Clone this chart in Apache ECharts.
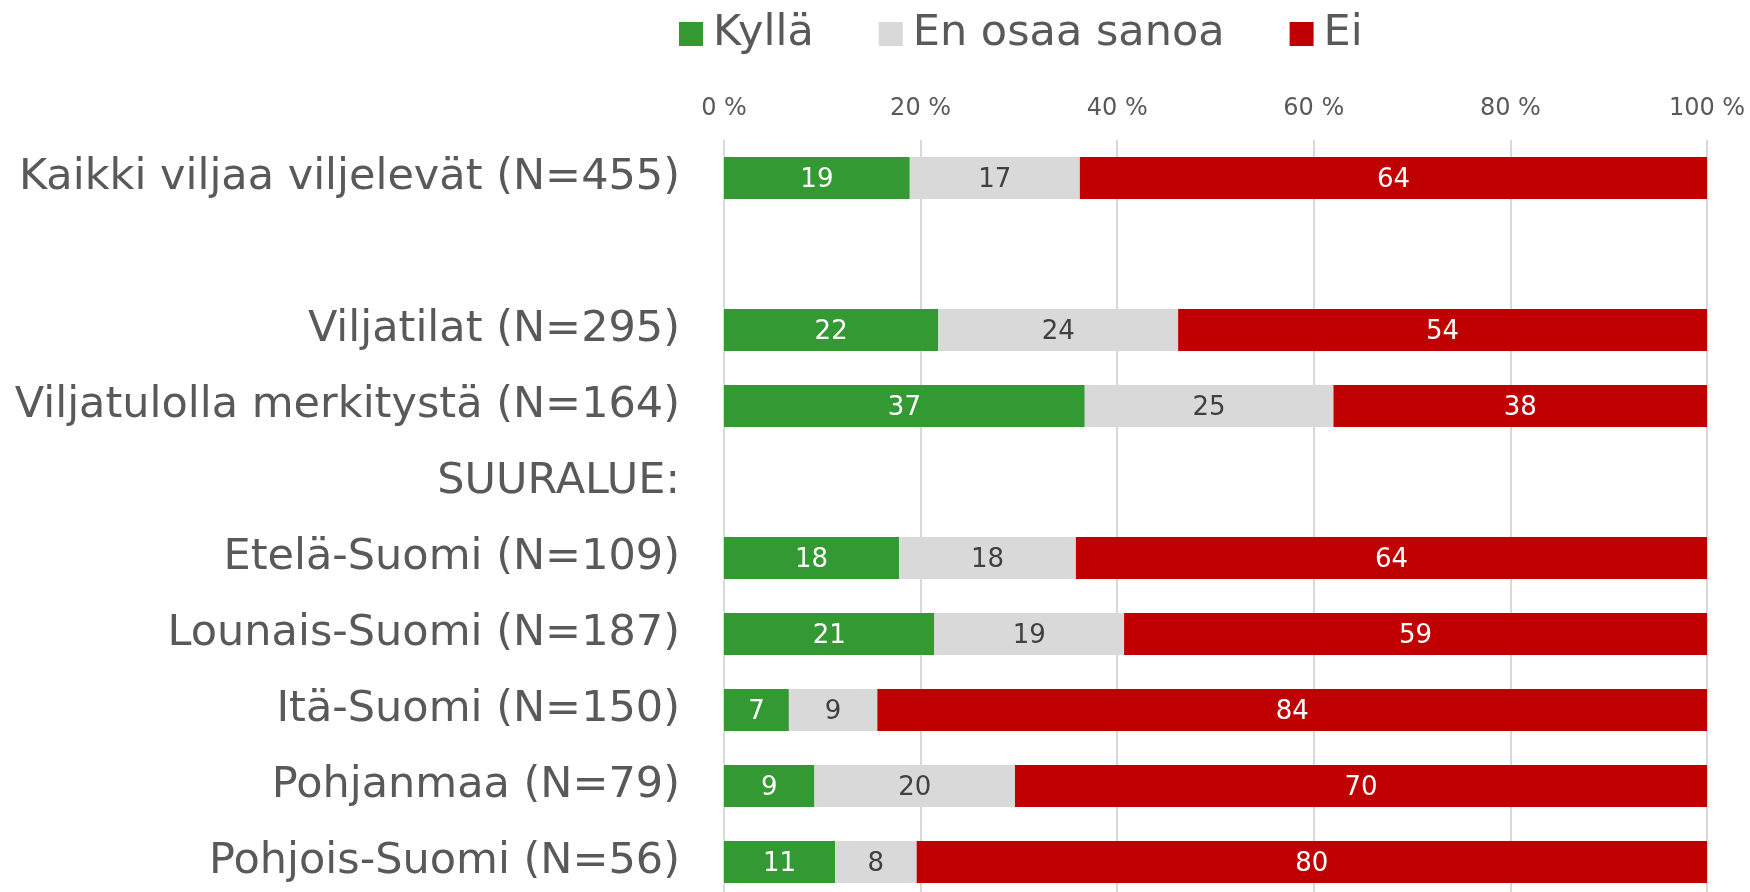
<html>
    <head>
        <meta charset="utf-8">
        <script src="https://cdn.jsdelivr.net/npm/echarts@6/dist/echarts.min.js"></script>
    </head>
    <body>
        <style>
            html, body, #main {
                width: 100%;
                height: 100%;
                margin: 0;
                background: #fff;
            }
        </style>
        <div id="main"></div>
        <script type="text/javascript">
            // rivit ylhäältä alas, tyhjät rivit välistyksenä
            var categories = [
                'Kaikki viljaa viljelevät (N=455)',
                '',
                'Viljatilat (N=295)',
                'Viljatulolla merkitystä (N=164)',
                'SUURALUE:',
                'Etelä-Suomi (N=109)',
                'Lounais-Suomi (N=187)',
                'Itä-Suomi (N=150)',
                'Pohjanmaa (N=79)',
                'Pohjois-Suomi (N=56)'
            ];
            var kylla    = [18.9, '-', 21.8, 36.7, '-', 17.8, 21.4, 6.6, 9.2, 11.3];
            var enOsaa   = [17.3, '-', 24.4, 25.3, '-', 18.0, 19.3, 9.0, 20.4, 8.3];
            var ei       = [63.8, '-', 53.8, 38.0, '-', 64.2, 59.3, 84.4, 70.4, 80.4];
            var seriesNames = ['Kyllä', 'En osaa sanoa', 'Ei'];

            var font = 'DejaVu Sans, Verdana, sans-serif';
            var chart = echarts.init(document.getElementById('main'));

            function makeSeries(name, data, color, labelColor) {
                return {
                    name: name,
                    type: 'bar',
                    stack: 'total',
                    barWidth: 42,
                    data: data,
                    itemStyle: { color: color },
                    label: {
                        show: true,
                        position: 'inside',
                        color: labelColor,
                        fontFamily: font,
                        fontSize: 26,
                        offset: [0, 2],
                        formatter: function (p) { return Math.round(p.value); }
                    },
                    emphasis: { disabled: true }
                };
            }

            var option = {
                animation: false,
                legend: {
                    data: seriesNames,
                    left: 674,
                    top: 5,
                    icon: 'rect',
                    itemWidth: 24,
                    itemHeight: 24,
                    itemGap: 65,
                    textStyle: {
                        fontFamily: font,
                        fontSize: 43,
                        color: '#595959',
                        lineHeight: 48,
                        padding: [0, 0, 0, 5]
                    }
                },
                grid: {
                    left: 724,
                    right: 43,
                    top: 140,
                    height: 760,
                    outerBoundsMode: 'none'
                },
                xAxis: {
                    type: 'value',
                    position: 'top',
                    min: 0,
                    max: 100,
                    interval: 20,
                    axisLine: { show: false },
                    axisTick: { show: false },
                    axisLabel: {
                        formatter: '{value} %',
                        fontFamily: font,
                        fontSize: 24,
                        color: '#595959',
                        margin: 19
                    },
                    splitLine: { lineStyle: { color: '#d9d9d9', width: 2 } }
                },
                yAxis: {
                    type: 'category',
                    inverse: true,
                    data: categories,
                    axisLine: { show: false },
                    axisTick: { show: false },
                    axisLabel: {
                        fontFamily: font,
                        fontSize: 43,
                        color: '#595959',
                        margin: 44,
                        padding: [4, 0, 0, 0]
                    }
                },
                series: [
                    makeSeries(seriesNames[0], kylla, '#339933', '#ffffff'),
                    makeSeries(seriesNames[1], enOsaa, '#d9d9d9', '#404040'),
                    makeSeries(seriesNames[2], ei, '#c00000', '#ffffff')
                ]
            };
            chart.setOption(option);
            window.onresize = chart.resize;
        </script>
    </body>
</html>
